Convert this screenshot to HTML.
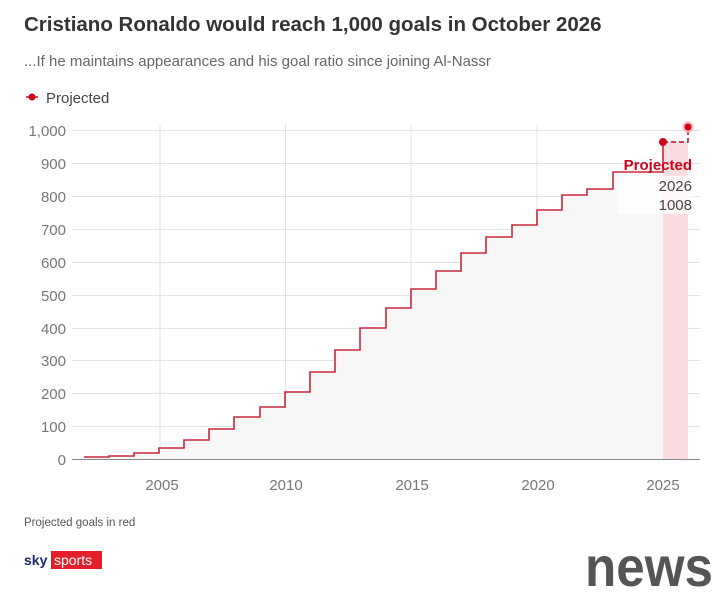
<!DOCTYPE html>
<html><head><meta charset="utf-8"><style>
body{margin:0;background:#fff;width:720px;height:594px;overflow:hidden;font-family:"Liberation Sans",sans-serif}
</style></head><body>
<svg width="720" height="594" xmlns="http://www.w3.org/2000/svg" font-family="Liberation Sans, sans-serif">
<text x="24" y="31" font-size="20.5" font-weight="bold" fill="#333">Cristiano Ronaldo would reach 1,000 goals in October 2026</text>
<text x="24" y="66" font-size="15" fill="#666">...If he maintains appearances and his goal ratio since joining Al-Nassr</text>
<line x1="26" y1="97" x2="38" y2="97" stroke="#d0021b" stroke-width="1.5"/>
<circle cx="32" cy="97" r="3.5" fill="#d0021b"/>
<text x="46" y="103" font-size="15" fill="#444">Projected</text>
<g stroke="#e3e3e3" stroke-width="1">
<line x1="72" y1="130.5" x2="700" y2="130.5"/><line x1="72" y1="163.5" x2="700" y2="163.5"/>
<line x1="72" y1="196.5" x2="700" y2="196.5"/><line x1="72" y1="229.5" x2="700" y2="229.5"/>
<line x1="72" y1="262.5" x2="700" y2="262.5"/><line x1="72" y1="295.5" x2="700" y2="295.5"/>
<line x1="72" y1="328.5" x2="700" y2="328.5"/><line x1="72" y1="360.5" x2="700" y2="360.5"/>
<line x1="72" y1="393.5" x2="700" y2="393.5"/><line x1="72" y1="426.5" x2="700" y2="426.5"/>
<line x1="160" y1="125" x2="160" y2="459"/><line x1="285.5" y1="125" x2="285.5" y2="459"/>
<line x1="411" y1="125" x2="411" y2="459"/><line x1="537" y1="125" x2="537" y2="459"/>
</g>
<path d="M84,459 L84,457 L109,457 L109,456 L134,456 L134,453 L159,453 L159,448 L184,448 L184,440 L209,440 L209,429 L234,429 L234,417 L260,417 L260,407 L285,407 L285,392 L310,392 L310,372 L335,372 L335,350 L360,350 L360,328 L386,328 L386,308 L411,308 L411,289 L436,289 L436,271 L461,271 L461,253 L486,253 L486,237 L512,237 L512,225 L537,225 L537,210 L562,210 L562,195 L587,195 L587,189 L613,189 L613,172 L663,172 L663,459 Z" fill="#f7f7f7"/>
<rect x="663" y="142" width="25" height="317" fill="#fbdde1"/>
<path d="M84,457 L109,457 L109,456 L134,456 L134,453 L159,453 L159,448 L184,448 L184,440 L209,440 L209,429 L234,429 L234,417 L260,417 L260,407 L285,407 L285,392 L310,392 L310,372 L335,372 L335,350 L360,350 L360,328 L386,328 L386,308 L411,308 L411,289 L436,289 L436,271 L461,271 L461,253 L486,253 L486,237 L512,237 L512,225 L537,225 L537,210 L562,210 L562,195 L587,195 L587,189 L613,189 L613,172 L663,172 L663,142" fill="none" stroke="#c8283c" stroke-width="1.6"/>
<path d="M663,142 L688,142 L688,127" fill="none" stroke="#d0021b" stroke-width="1.5" stroke-dasharray="5,3"/>
<circle cx="663" cy="142" r="4" fill="#d0021b"/>
<circle cx="688" cy="127" r="5.5" fill="#f5b5be"/><circle cx="688" cy="127" r="3.5" fill="#d0021b"/>
<line x1="72" y1="459.5" x2="700" y2="459.5" stroke="#888" stroke-width="1"/>
<rect x="618" y="176" width="76" height="38" fill="#fff" opacity="0.75"/>
<text x="692" y="170" font-size="15" font-weight="bold" fill="#d0021b" text-anchor="end">Projected</text>
<text x="692" y="191" font-size="15" fill="#444" text-anchor="end">2026</text>
<text x="692" y="210" font-size="15" fill="#444" text-anchor="end">1008</text>
<g font-size="15" fill="#777" text-anchor="end">
<text x="66" y="136">1,000</text><text x="66" y="169">900</text><text x="66" y="202">800</text>
<text x="66" y="235">700</text><text x="66" y="268">600</text><text x="66" y="301">500</text>
<text x="66" y="334">400</text><text x="66" y="366">300</text><text x="66" y="399">200</text>
<text x="66" y="432">100</text><text x="66" y="465">0</text>
</g>
<g font-size="15" fill="#777" text-anchor="middle">
<text x="162" y="490">2005</text><text x="286" y="490">2010</text><text x="412" y="490">2015</text>
<text x="538" y="490">2020</text><text x="663" y="490">2025</text>
</g>
<text x="24" y="526" font-size="11.5" fill="#555">Projected goals in red</text>
<text x="24" y="565" font-size="14" font-weight="bold" fill="#1b2a6b">sky</text>
<rect x="51" y="551" width="51" height="18" fill="#e3202a"/>
<text x="54" y="565" font-size="14" fill="#fff">sports</text>
<text x="585" y="586" font-size="56" font-weight="bold" fill="#555" textLength="128" lengthAdjust="spacingAndGlyphs">news</text>
</svg>
</body></html>
